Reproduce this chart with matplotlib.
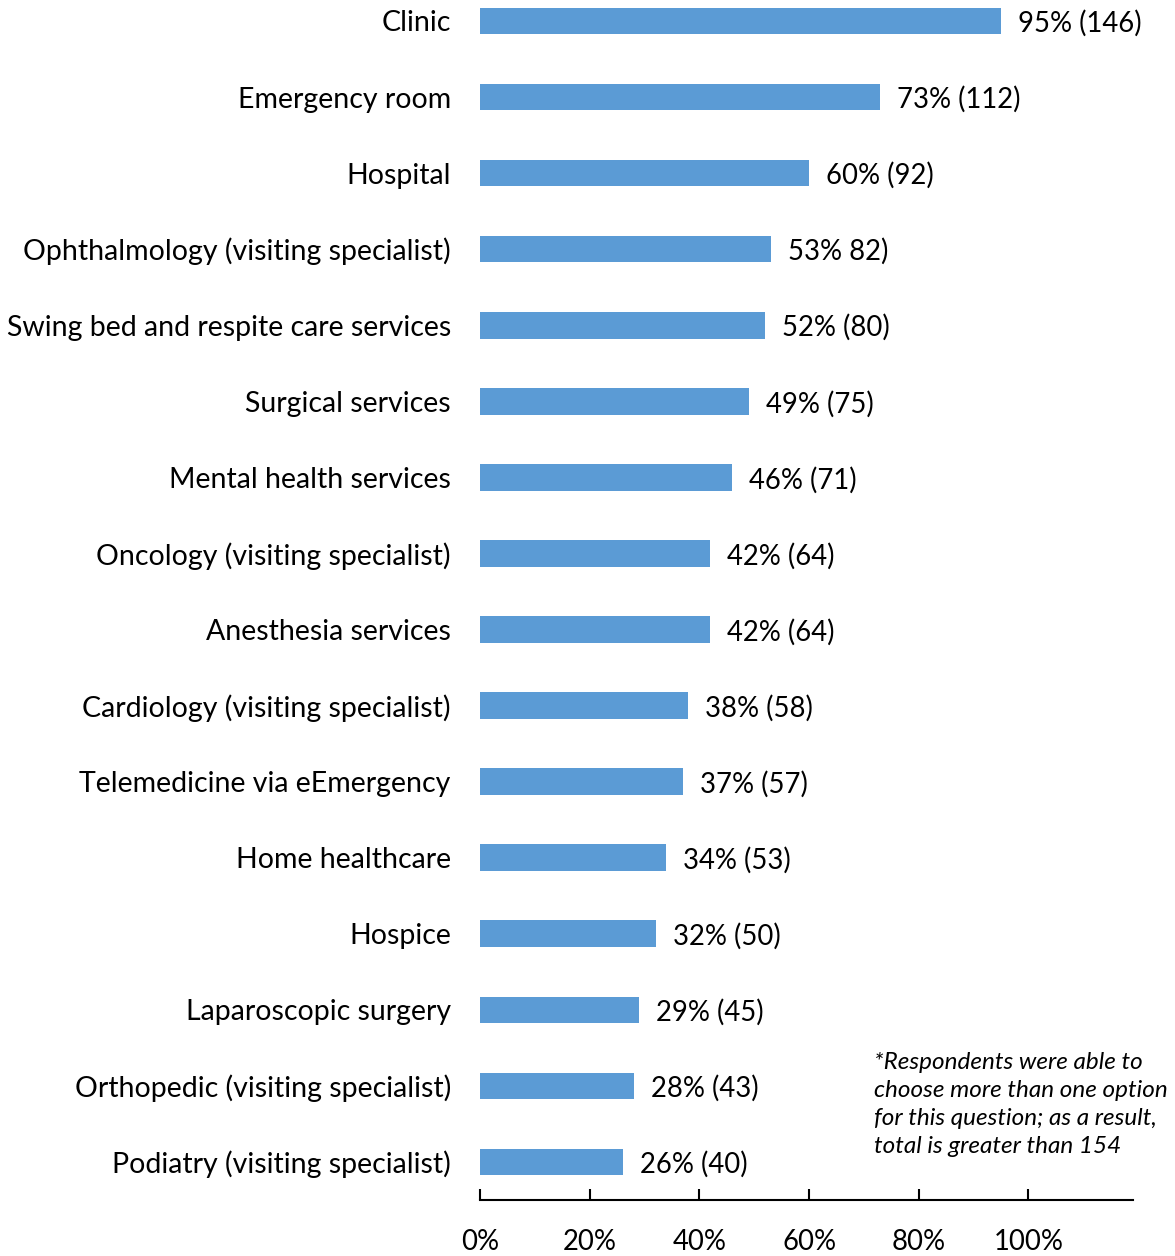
import matplotlib
matplotlib.use("Agg")
import matplotlib.pyplot as plt
import numpy as np

plt.rcParams['font.family'] = ['Lato', 'DejaVu Sans']

services = [
    "Clinic", "Emergency room", "Hospital",
    "Ophthalmology (visiting specialist)",
    "Swing bed and respite care services", "Surgical services",
    "Mental health services", "Oncology (visiting specialist)",
    "Anesthesia services", "Cardiology (visiting specialist)",
    "Telemedicine via eEmergency", "Home healthcare", "Hospice",
    "Laparoscopic surgery", "Orthopedic (visiting specialist)",
    "Podiatry (visiting specialist)",
]
percents = [95, 73, 60, 53, 52, 49, 46, 42, 42, 38, 37, 34, 32, 29, 28, 26]
counts = [146, 112, 92, 82, 80, 75, 71, 64, 64, 58, 57, 53, 50, 45, 43, 40]
value_labels = [f"{p}% ({n})" for p, n in zip(percents, counts)]
value_labels[3] = f"{percents[3]}% {counts[3]})"
x_ticks = [0, 20, 40, 60, 80, 100]
note = ("*Respondents were able to\nchoose more than one option\n"
        "for this question; as a result,\ntotal is greater than 154")

fig = plt.figure(figsize=(11.75, 12.56), dpi=100)
ax = fig.add_axes([0.4085, 0.0446, 0.5555, 0.9554])

y = np.arange(len(services))[::-1]
ax.barh(y, percents, height=0.35, color="#5B9BD5")
for yi, p, lab in zip(y, percents, value_labels):
    ax.text(p + 3.1, yi, lab, va="center_baseline", ha="left", fontsize=19.8, color="black")

ax.set_yticks(y)
ax.set_yticklabels(services, fontsize=20.5, va="center_baseline")
ax.tick_params(axis="y", length=0, pad=21)
ax.set_xticks(x_ticks)
ax.set_xticklabels([f"{t}%" for t in x_ticks], fontsize=19.8)
ax.tick_params(axis="x", direction="in", length=8, width=1.5, pad=21)
ax.set_xlim(0, 119)
ax.set_ylim(-0.5, 15.276)
for s in ["top", "right", "left"]:
    ax.spines[s].set_visible(False)
ax.spines["bottom"].set_linewidth(1.5)

fig.text(874 / 1175, 1 - 1052 / 1256, note, fontsize=17.5, style="italic",
         va="top", ha="left", linespacing=1.42)

fig.savefig("out.png", dpi=100)
